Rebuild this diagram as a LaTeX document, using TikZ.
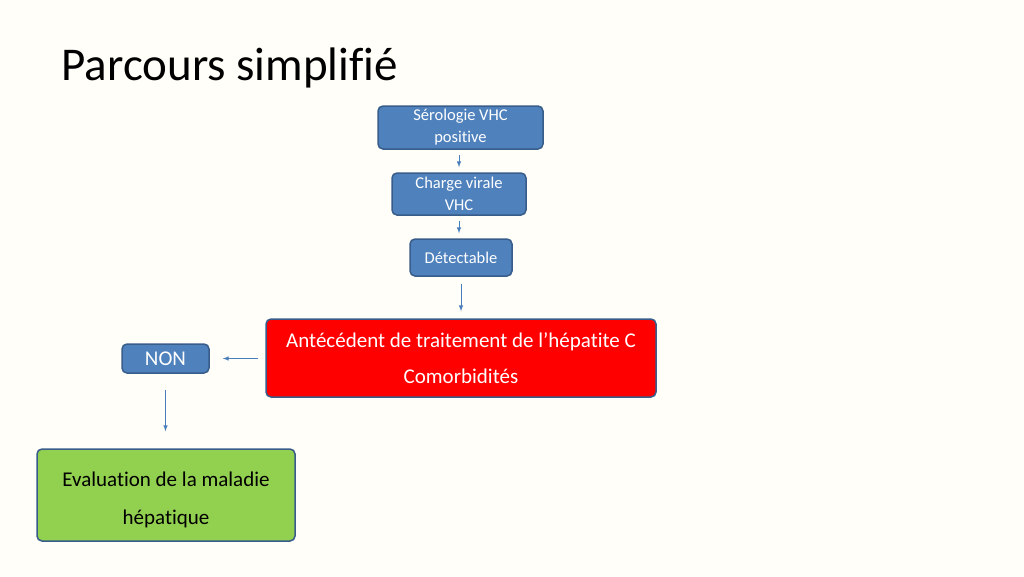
\documentclass[tikz,border=0pt]{standalone}
\usepackage{fontspec}
\setmainfont{Carlito}[Ligatures=NoCommon]
\usetikzlibrary{arrows,positioning}

\definecolor{pagebg}{RGB}{255,254,248}
\definecolor{boxblue}{RGB}{79,129,189}
\definecolor{boxline}{RGB}{56,93,138}
\definecolor{arrowblue}{RGB}{74,126,187}
\definecolor{boxgreen}{RGB}{146,208,80}

\begin{document}
\begin{tikzpicture}[x=1pt, y=-1pt,
    bluebox/.style = {draw=boxline, fill=boxblue, line width=1.5pt, rounded corners=5pt,
                      text=white, align=center, inner sep=0pt},
    flowarrow/.style = {draw=arrowblue, line width=1pt, -latex, shorten <=5pt, shorten >=5pt}]
\fill[pagebg] (0,0) rectangle (1024,576);
\useasboundingbox (0,0) rectangle (1024,576);

\node [anchor=base west, font=\fontsize{47}{54}\selectfont] (title) at (58,80) {Parcours simplifié};

\node (sero) [bluebox, minimum width=165pt, minimum height=43pt, font=\fontsize{16.5}{22}\selectfont] at (460.5,127.5) {Sérologie VHC\\positive};
\node (charge) [bluebox, minimum width=134pt, minimum height=42pt, font=\fontsize{16.5}{22}\selectfont] at (459,194) {Charge virale\\VHC};
\node (detect) [bluebox, minimum width=102pt, minimum height=37pt, font=\fontsize{16.5}{22}\selectfont] at (461,257.5) {Détectable};
\node (atcd) [bluebox, fill=red, minimum width=390pt, minimum height=78pt, font=\fontsize{21}{36}\selectfont] at (461,358) {Antécédent de traitement de l’hépatite C\\Comorbidités};
\node (non) [bluebox, minimum width=87pt, minimum height=29pt, font=\fontsize{21}{22}\selectfont] at (165.5,358.5) {NON};
\node (evalu) [bluebox, fill=boxgreen, minimum width=258pt, minimum height=92pt] at (166,495) {};
\node [text=black, align=center, font=\fontsize{21}{38}\selectfont, yshift=-5pt] at (evalu) {Evaluation de la maladie\\hépatique};

%% arrows
\draw [flowarrow] (sero.south -| charge) -- (charge);
\draw [flowarrow] (charge) -- (detect.north -| charge);
\draw [flowarrow, shorten <=7pt, shorten >=7pt] (detect) -- (atcd);
\draw [flowarrow, shorten <=7pt, shorten >=13pt] (atcd.west |- non) -- (non);
\draw [flowarrow, shorten <=16pt, shorten >=17pt] (non) -- (evalu.north -| non);
\end{tikzpicture}
\end{document}
